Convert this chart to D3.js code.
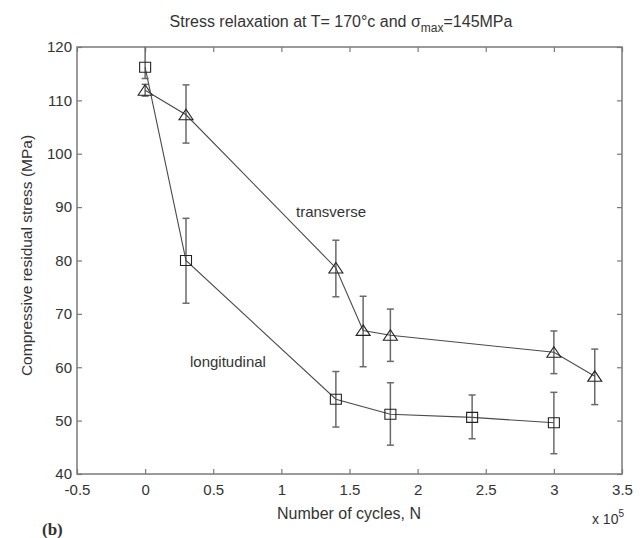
<!DOCTYPE html>
<html><head><meta charset="utf-8">
<script src="https://cdn.jsdelivr.net/npm/d3@7"></script>
<style>
html,body{margin:0;padding:0;background:#fff;}
svg{display:block;}
text{font-family:"Liberation Sans",Arial,sans-serif;fill:#333;}
</style></head>
<body><svg id="c" width="642" height="538"></svg>
<script>
// ---- data (x in units of 10^5 cycles) ----
const longX   = [0, 0.3, 1.4, 1.8, 2.4, 3.0];
const longY   = [116.2, 80.0, 54.0, 51.2, 50.6, 49.6];
const longLo  = [114.1, 72.0, 48.8, 45.4, 46.6, 43.8];
const longHi  = [124.0, 87.9, 59.2, 57.1, 54.8, 55.3];

const transX  = [0, 0.3, 1.4, 1.6, 1.8, 3.0, 3.3];
const transY  = [111.9, 107.3, 78.6, 66.9, 66.0, 62.8, 58.3];
const transLo = [110.8, 102.0, 73.2, 60.1, 61.1, 58.8, 53.0];
const transHi = [113.0, 112.9, 83.8, 73.3, 70.9, 66.8, 63.4];

const xTicks = [-0.5, 0, 0.5, 1, 1.5, 2, 2.5, 3, 3.5];
const yTicks = [40, 50, 60, 70, 80, 90, 100, 110, 120];

const svg = d3.select("#c");
const L = 77, R = 622, T = 47, B = 474;
const x = d3.scaleLinear().domain([-0.5, 3.5]).range([L, R]);
const y = d3.scaleLinear().domain([40, 120]).range([B, T]);

const axisCol = "#7a7a7a";

svg.append("defs").append("clipPath").attr("id","clip")
  .append("rect").attr("x",L).attr("y",T).attr("width",R-L).attr("height",B-T);

const fmt = d => String(d);
const gxB = svg.append("g").attr("transform",`translate(0,${B})`)
  .call(d3.axisBottom(x).tickValues(xTicks).tickSizeInner(-5).tickSizeOuter(0).tickPadding(10).tickFormat(fmt));
const gxT = svg.append("g").attr("transform",`translate(0,${T})`)
  .call(d3.axisTop(x).tickValues(xTicks).tickSizeInner(-5).tickSizeOuter(0).tickFormat(""));
const gyL = svg.append("g").attr("transform",`translate(${L},0)`)
  .call(d3.axisLeft(y).tickValues(yTicks).tickSizeInner(-5).tickSizeOuter(0).tickPadding(5).tickFormat(fmt));
const gyR = svg.append("g").attr("transform",`translate(${R},0)`)
  .call(d3.axisRight(y).tickValues(yTicks).tickSizeInner(-5).tickSizeOuter(0).tickFormat(""));
[gxB,gxT,gyL,gyR].forEach(g=>{
  g.select(".domain").remove();
  g.selectAll(".tick line").attr("stroke",axisCol).attr("stroke-width",1.2);
  g.selectAll(".tick text").attr("font-size",15).attr("fill","#333")
   .style("font-family","'Liberation Sans',Arial,sans-serif");
});
svg.append("rect").attr("x",L).attr("y",T).attr("width",R-L).attr("height",B-T)
  .attr("fill","none").attr("stroke",axisCol).attr("stroke-width",1.5);

const plot = svg.append("g").attr("clip-path","url(#clip)");

const triType = { draw(ctx, size){ const w=7, h=5.5; ctx.moveTo(0,-h); ctx.lineTo(w,h-0.5); ctx.lineTo(-w,h-0.5); ctx.closePath(); } };
const sqType  = { draw(ctx, size){ const w=5.5, h=5; ctx.rect(-w,-h,2*w,2*h); } };

function series(xs, ys, lo, hi, marker){
  const pts = xs.map((d,i)=>({x:d,y:ys[i],lo:lo[i],hi:hi[i]}));
  const eb = plot.append("g").attr("stroke","#6a6a6a").attr("stroke-width",1.5).attr("fill","none");
  pts.forEach(p=>{
    const cx = x(p.x);
    eb.append("line").attr("x1",cx).attr("x2",cx).attr("y1",y(p.lo)).attr("y2",y(p.hi));
    eb.append("line").attr("x1",cx-3.5).attr("x2",cx+3.5).attr("y1",y(p.lo)).attr("y2",y(p.lo));
    eb.append("line").attr("x1",cx-3.5).attr("x2",cx+3.5).attr("y1",y(p.hi)).attr("y2",y(p.hi));
  });
  plot.append("path").datum(pts)
    .attr("d", d3.line().x(d=>x(d.x)).y(d=>y(d.y)))
    .attr("fill","none").attr("stroke","#4a4a4a").attr("stroke-width",1.1);
  const sym = d3.symbol().type(marker==="square" ? sqType : triType);
  plot.selectAll(null).data(pts).enter().append("path")
    .attr("d", sym)
    .attr("transform", d=>`translate(${x(d.x)},${y(d.y)})`)
    .attr("fill","none").attr("stroke","#222").attr("stroke-width",1.1);
}
series(transX, transY, transLo, transHi, "triangle");
series(longX, longY, longLo, longHi, "square");

// annotations
svg.append("text").attr("x",296).attr("y",217).attr("font-size",15).text("transverse");
svg.append("text").attr("x",190).attr("y",367).attr("font-size",15).text("longitudinal");

// title
const title = svg.append("text").attr("x",341).attr("y",27).attr("text-anchor","middle").attr("font-size",16);
title.append("tspan").text("Stress relaxation at T= 170°c and σ");
title.append("tspan").attr("font-size",12).attr("dy",5).text("max");
title.append("tspan").attr("dy",-5).text("=145MPa");

// axis labels
svg.append("text").attr("x",349).attr("y",519).attr("text-anchor","middle").attr("font-size",16)
  .text("Number of cycles, N");
svg.append("text").attr("transform",`translate(32,${(T+B)/2 - 5}) rotate(-90)`).attr("text-anchor","middle")
  .attr("font-size",15.5).text("Compressive residual stress (MPa)");
const ex = svg.append("text").attr("x",624).attr("y",524).attr("text-anchor","end").attr("font-size",14);
ex.append("tspan").text("x 10");
ex.append("tspan").attr("font-size",10).attr("dy",-7).text("5");

svg.append("text").attr("x",42).attr("y",535).attr("font-size",17)
  .style("font-family","'Liberation Serif','Times New Roman',serif").attr("font-weight","bold").attr("fill","#111").text("(b)");
</script></body></html>
